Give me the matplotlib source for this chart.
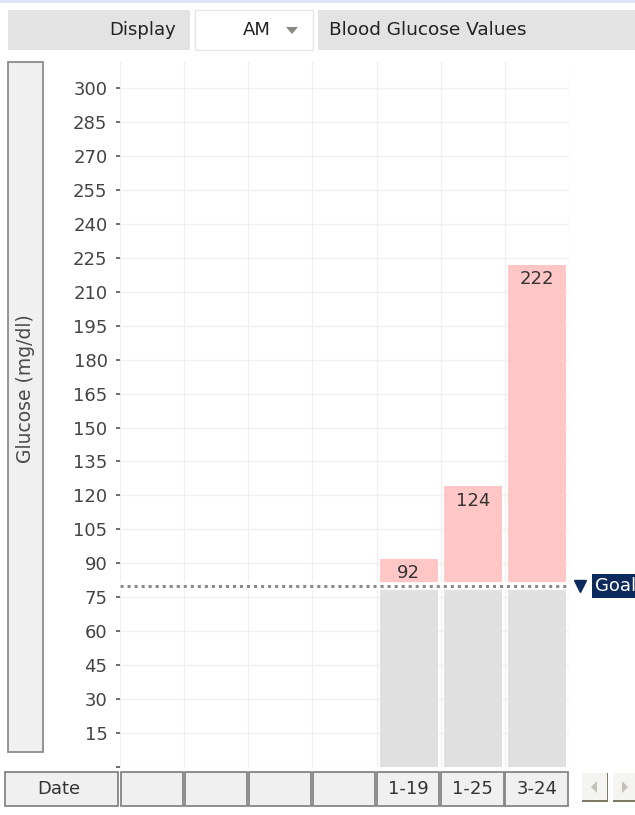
import matplotlib
matplotlib.use("Agg")
import matplotlib.pyplot as plt
from matplotlib.patches import Rectangle, Polygon
from matplotlib.transforms import blended_transform_factory

# ---- data ----
dates = ["", "", "", "", "1-19", "1-25", "3-24"]
glucose = [None, None, None, None, 92, 124, 222]
goal = 80
y_ticks = list(range(0, 301, 15))
y_tick_labels = [""] + [str(v) for v in y_ticks[1:]]

W, H = 635, 815
FS = 13
fig = plt.figure(figsize=(W / 100, H / 100), dpi=100)
fig.patch.set_facecolor("white")
plt.rcParams["font.family"] = ["DejaVu Sans"]


def px_rect(x0, y0, w, h):
    """Figure-fraction rectangle from pixel box measured from top-left."""
    return [x0 / W, 1 - (y0 + h) / H, w / W, h / H]


def fig_box(x0, y0, w, h, fc, ec="none", lw=0, z=1):
    r = Rectangle((x0 / W, 1 - (y0 + h) / H), w / W, h / H,
                  transform=fig.transFigure, facecolor=fc, edgecolor=ec,
                  linewidth=lw, zorder=z)
    fig.patches.append(r)
    return r


def fig_text(x, y, s, **kw):
    fig.text(x / W, 1 - y / H, s, **kw)


# ---- header toolbar ----
fig_box(0, 0, 635, 3, "#dfe7f6")
fig_box(8, 10, 182, 40, "#e3e3e3")
fig_box(195, 10, 118, 40, "#ffffff", ec="#e6e6e6", lw=1)
fig_box(318, 10, 317, 40, "#e3e3e3")
fig_text(176, 30, "Display", ha="right", va="center", fontsize=FS, color="#222222")
fig_text(257, 30, "AM", ha="center", va="center", fontsize=FS, color="#222222")
fig.patches.append(Polygon([[286 / W, 1 - 27 / H], [298 / W, 1 - 27 / H], [292 / W, 1 - 34 / H]],
                           closed=True, transform=fig.transFigure, facecolor="#8a8a80",
                           edgecolor="none"))
fig_text(329, 30, "Blood Glucose Values", ha="left", va="center", fontsize=13.3, color="#222222")

# ---- y-axis title box ----
fig_box(8, 62, 35, 690, "#f0f0f0", ec="#8c8c8c", lw=1.3)
fig_text(26, 389, "Glucose (mg/dl)", ha="center", va="center", rotation=90,
         fontsize=13.5, color="#4a4a4a")

# ---- main plot ----
ax = fig.add_axes(px_rect(120, 62, 449, 705))
ax.set_xlim(-0.5, len(dates) - 0.5)
ax.set_ylim(0, 311.5)
for s in ax.spines.values():
    s.set_visible(False)

ax.set_yticks(y_ticks)
ax.set_yticklabels(y_tick_labels)
ax.tick_params(axis="y", length=3, width=1.2, color="#555555", pad=6,
               labelsize=FS, labelcolor="#444444")
ax.set_xticks(range(len(dates)))
ax.set_xticklabels(dates)
ax.tick_params(axis="x", length=0, pad=9.5, labelsize=FS, labelcolor="#333333")
ax.set_xticks([i - 0.5 for i in range(len(dates) + 1)], minor=True)
ax.tick_params(axis="x", which="minor", length=0)
ax.grid(axis="y", which="major", color="#f0f0f0", linewidth=1)
ax.grid(axis="x", which="minor", color="#f0f0f0", linewidth=1)
ax.set_axisbelow(True)

idx = [i for i, v in enumerate(glucose) if v is not None]
vals = [glucose[i] for i in idx]
ax.bar(idx, [goal] * len(idx), width=0.9, color="#e0e0e0", zorder=2)
ax.bar(idx, [v - goal for v in vals], bottom=goal, width=0.9, color="#ffc6c6", zorder=2)

# separation band and dotted goal line
ax.axhline(goal, color="white", linewidth=5.5, zorder=3)
ax.axhline(goal, color="#8a8a8a", linewidth=2.2, linestyle=(0, (1, 1.3)), zorder=4)

for i, v in zip(idx, vals):
    ax.annotate(str(v), (i, v), xytext=(0, -10.5), textcoords="offset points",
                ha="center", va="center", fontsize=FS, color="#333333", zorder=5)

# goal marker and tag
tr = blended_transform_factory(ax.transAxes, ax.transData)
ax.plot([(579.5 - 120) / 449], [goal], marker="v", markersize=9, color="#0d2a5c",
        transform=tr, clip_on=False, zorder=6)
ax.text((595 - 120) / 449, goal, "Goal", transform=tr, ha="left", va="center",
        fontsize=FS, color="white", clip_on=False, zorder=6,
        bbox=dict(boxstyle="square,pad=0.15", facecolor="#0d2a5c", edgecolor="none"))

# ---- date row cells (kept beneath the tick labels) ----
trx = blended_transform_factory(ax.transData, fig.transFigure)
cell_y0 = 1 - 806 / H
cell_h = 34 / H
for i in range(len(dates)):
    ax.add_patch(Rectangle((i - 0.49, cell_y0), 0.97, cell_h, transform=trx,
                           facecolor="#f0f0f0", edgecolor="#858585", linewidth=1.3,
                           clip_on=False, zorder=0.2))
fig_box(5, 772, 113, 34, "#f0f0f0", ec="#858585", lw=1.3)
fig_text(59, 789, "Date", ha="center", va="center", fontsize=FS, color="#333333")

# ---- scroll buttons ----
for bx, direction in [(582, -1), (613, 1)]:
    fig_box(bx, 773, 25, 28, "#f4f4f0")
    fig_box(bx, 800, 26, 1.6, "#7f7a66")
    fig_box(bx + 24.5, 773, 1.6, 28, "#7f7a66")
    cx, cy = bx + 12, 787
    if direction < 0:
        pts = [[cx + 3, cy - 6], [cx + 3, cy + 6], [cx - 3, cy]]
    else:
        pts = [[cx - 3, cy - 6], [cx - 3, cy + 6], [cx + 3, cy]]
    fig.patches.append(Polygon([[p[0] / W, 1 - p[1] / H] for p in pts], closed=True,
                               transform=fig.transFigure, facecolor="#c4c2b6",
                               edgecolor="none"))

fig.savefig("out.png", dpi=100)
